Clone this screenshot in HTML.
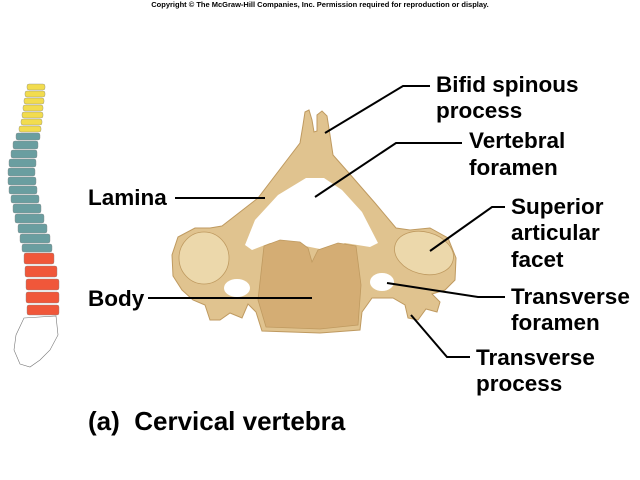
<!DOCTYPE html>
<html><head><meta charset="utf-8"><style>
html,body{margin:0;padding:0;background:#fff;}
svg{display:block;}
text{font-family:"Liberation Sans",sans-serif;font-weight:bold;fill:#000;}
</style></head><body>
<svg width="640" height="480" viewBox="0 0 640 480" xmlns="http://www.w3.org/2000/svg">
<text x="320" y="7" font-size="7.5" text-anchor="middle">Copyright © The McGraw-Hill Companies, Inc. Permission required for reproduction or display.</text>

<!-- spine -->
<g stroke="#888" stroke-width="0.4">
<g fill="#f2dc4e">
<rect x="27" y="84" width="18" height="6" rx="2"/>
<rect x="25" y="91" width="20" height="6" rx="2"/>
<rect x="24" y="98" width="20" height="6" rx="2"/>
<rect x="23" y="105" width="20" height="6" rx="2"/>
<rect x="22" y="112" width="21" height="6" rx="2"/>
<rect x="21" y="119" width="21" height="6" rx="2"/>
<rect x="19" y="126" width="22" height="6" rx="2"/>
</g>
<g fill="#6a9ea0">
<rect x="16" y="133" width="24" height="7" rx="2"/>
<rect x="13" y="141" width="25" height="8" rx="2"/>
<rect x="11" y="150" width="26" height="8" rx="2"/>
<rect x="9" y="159" width="27" height="8" rx="2"/>
<rect x="8" y="168" width="27" height="8" rx="2"/>
<rect x="8" y="177" width="28" height="8" rx="2"/>
<rect x="9" y="186" width="28" height="8" rx="2"/>
<rect x="11" y="195" width="28" height="8" rx="2"/>
<rect x="13" y="204" width="28" height="9" rx="2"/>
<rect x="15" y="214" width="29" height="9" rx="2"/>
<rect x="18" y="224" width="29" height="9" rx="2"/>
<rect x="20" y="234" width="30" height="9" rx="2"/>
<rect x="22" y="244" width="30" height="8" rx="2"/>
</g>
<g fill="#f0573a">
<rect x="24" y="253" width="30" height="11" rx="2"/>
<rect x="25" y="266" width="32" height="11" rx="2"/>
<rect x="26" y="279" width="33" height="11" rx="2"/>
<rect x="26" y="292" width="33" height="11" rx="2"/>
<rect x="27" y="305" width="32" height="10" rx="2"/>
</g>
<path d="M24,318 L56,316 L58,335 L50,350 L40,360 L30,367 L20,364 L14,350 L16,335 Z" fill="#fff" stroke="#777" stroke-width="0.6"/>
</g>

<!-- vertebra -->
<path d="M305,112 L309,110 L312,120 L314,132 L317,131 L317,115 L322,111 L327,116 L330,135 L333,155 L348,172 L375,203 L396,228 L410,230 L430,228 L448,238 L456,258 L455,280 L445,290 L432,294 L440,302 L437,312 L426,309 L418,320 L408,318 L405,305 L393,298 L372,298 L362,312 L360,330 L320,333 L262,331 L256,312 L248,304 L242,318 L230,313 L220,320 L210,320 L205,305 L193,300 L182,290 L173,276 L172,255 L178,237 L195,228 L210,228 L222,226 L258,198 L287,160 L300,143 L303,125 Z" fill="#e0c38f" stroke="#bf9a60" stroke-width="1"/>
<path d="M306,178 L324,178 L342,190 L362,212 L378,243 L370,247 L345,243 L325,250 L300,245 L270,243 L252,250 L245,245 L255,220 L278,195 Z" fill="#fff"/>
<path d="M264,246 L280,240 L300,242 L308,248 L312,262 L318,250 L338,243 L356,246 L361,285 L358,325 L320,329 L266,327 L258,300 Z" fill="#d4ad74" stroke="#bf9a60" stroke-width="0.8"/>
<ellipse cx="204" cy="258" rx="25" ry="26" fill="#ecd8ab" stroke="#bf9a60" stroke-width="0.8"/>
<ellipse cx="424" cy="253" rx="30" ry="21" transform="rotate(15 424 253)" fill="#ecd8ab" stroke="#bf9a60" stroke-width="0.8"/>
<ellipse cx="237" cy="288" rx="13" ry="9" fill="#fff"/>
<ellipse cx="382" cy="282" rx="12" ry="9" fill="#fff"/>

<!-- leader lines -->
<g stroke="#000" stroke-width="2" fill="none">
<polyline points="325,133 403,86 430,86"/>
<polyline points="315,197 396,143 462,143"/>
<polyline points="175,198 265,198"/>
<polyline points="430,251 492,207 505,207"/>
<polyline points="148,298 312,298"/>
<polyline points="387,283 478,297 505,297"/>
<polyline points="411,315 447,357 470,357"/>
</g>

<g font-size="22.5">
<text x="436" y="92">Bifid spinous</text>
<text x="436" y="118">process</text>
<text x="469" y="148">Vertebral</text>
<text x="469" y="175">foramen</text>
<text x="88" y="205">Lamina</text>
<text x="511" y="214">Superior</text>
<text x="511" y="240">articular</text>
<text x="511" y="267">facet</text>
<text x="88" y="306">Body</text>
<text x="511" y="304">Transverse</text>
<text x="511" y="330">foramen</text>
<text x="476" y="365">Transverse</text>
<text x="476" y="391">process</text>
</g>
<text x="88" y="430" font-size="26" xml:space="preserve">(a)  Cervical vertebra</text>
</svg>
</body></html>
